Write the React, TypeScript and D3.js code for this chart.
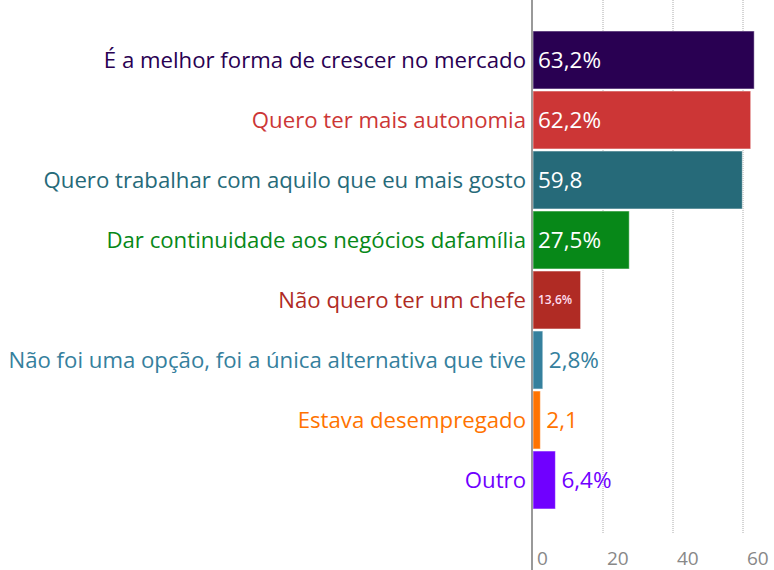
import React from "react";
import * as d3 from "d3";

const categories: string[] = [
  "É a melhor forma de crescer no mercado",
  "Quero ter mais autonomia",
  "Quero trabalhar com aquilo que eu mais gosto",
  "Dar continuidade aos negócios dafamília",
  "Não quero ter um chefe",
  "Não foi uma opção, foi a única alternativa que tive",
  "Estava desempregado",
  "Outro",
];
const values: number[] = [63.2, 62.2, 59.8, 27.5, 13.6, 2.8, 2.1, 6.4];
const valueLabels: string[] = ["63,2%", "62,2%", "59,8", "27,5%", "13,6%", "2,8%", "2,1", "6,4%"];
const colors: string[] = [
  "#290052",
  "#cc3636",
  "#266a79",
  "#078818",
  "#b02b24",
  "#35809d",
  "#ff7300",
  "#7000ff",
];
const ticks: number[] = [0, 20, 40, 60];

const width = 774;
const height = 570;
const font = "'Open Sans', sans-serif";

export default function App() {
  const x = d3.scaleLinear().domain([0, 70]).range([533, 778]);
  const y = d3
    .scaleBand()
    .domain(categories)
    .range([30, 510])
    .paddingInner(0.034)
    .paddingOuter(0.017);

  return (
    <svg
      width={width}
      height={height}
      style={{ position: "absolute", left: 0, top: 0, background: "#fff" }}
      fontFamily={font}
    >
      {/* grid */}
      {ticks.slice(1).map((t) => (
        <line
          key={t}
          x1={x(t)}
          x2={x(t)}
          y1={0}
          y2={533}
          stroke="#aaa"
          strokeWidth={1}
          strokeDasharray="1,1"
        />
      ))}
      {ticks.map((t) => (
        <text key={t} x={x(t) + 4} y={565} fontSize={19} fill="#888">
          {t}
        </text>
      ))}

      {categories.map((c, i) => {
        const v = values[i];
        const by = y(c) as number;
        const cy = by + y.bandwidth() / 2;
        const big = v > 20;
        const mid = v > 10 && !big;
        return (
          <g key={c}>
            <rect
              x={x(0)}
              y={by}
              width={x(v) - x(0)}
              height={y.bandwidth()}
              fill={colors[i]}
              stroke="#fff"
              strokeOpacity={0.5}
              strokeWidth={1}
            />
            <text
              x={526}
              y={cy}
              dy="0.35em"
              textAnchor="end"
              fontSize={22.2}
              fill={colors[i]}
            >
              {c}
            </text>
            {big && (
              <text x={x(0) + 5} y={cy} dy="0.35em" fontSize={22.5} fill="#fff">
                {valueLabels[i]}
              </text>
            )}
            {mid && (
              <text
                x={x(0) + 5}
                y={cy}
                dy="0.35em"
                fontSize={12}
                fontWeight={600}
                fill="#fde"
              >
                {valueLabels[i]}
              </text>
            )}
            {!big && !mid && (
              <text x={x(v) + 6} y={cy} dy="0.35em" fontSize={22.5} fill={colors[i]}>
                {valueLabels[i]}
              </text>
            )}
          </g>
        );
      })}

      {/* axis line */}
      <line x1={532} x2={532} y1={0} y2={570} stroke="#999" strokeWidth={2} />
    </svg>
  );
}
